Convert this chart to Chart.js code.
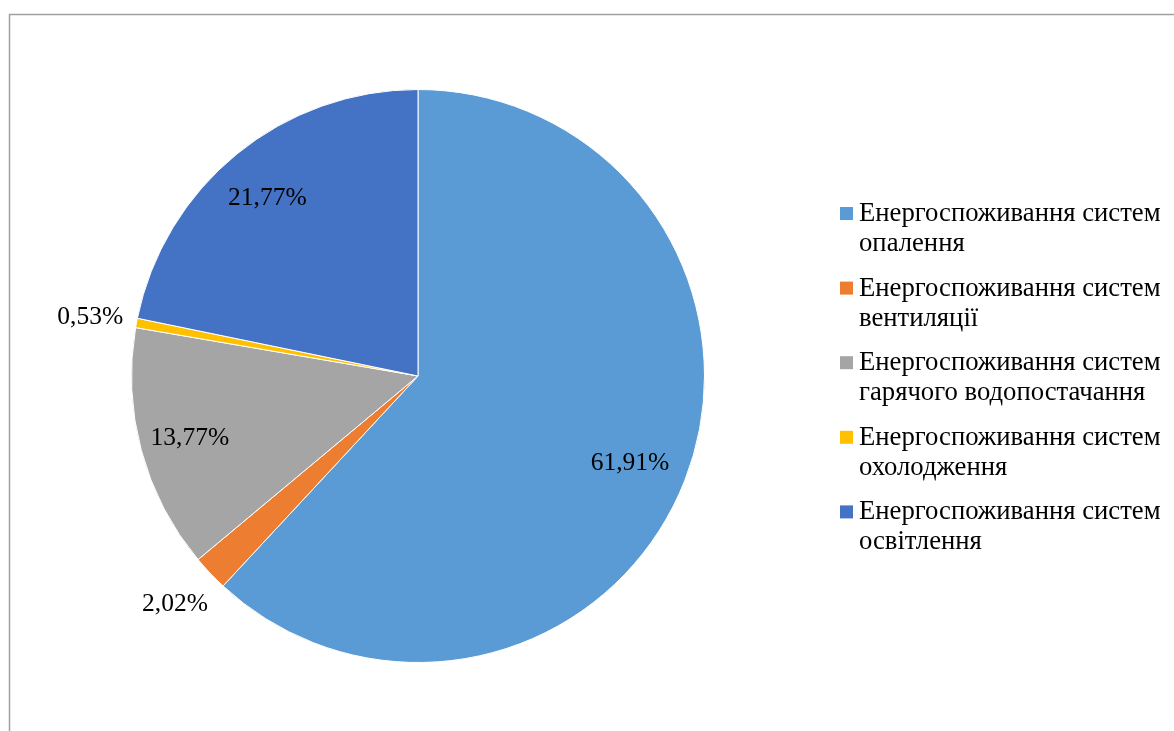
<!DOCTYPE html>
<html>
<head>
<meta charset="utf-8">
<script src="https://cdn.jsdelivr.net/npm/chart.js"></script>
<style>
  body { margin: 0; background: #fff; }
  #wrap { width: 1174px; height: 731px; position: relative; }
</style>
</head>
<body>
<div id="wrap"><canvas id="myChart"></canvas></div>
<script>
// дані діаграми
const categories = [
  "Енергоспоживання систем опалення",
  "Енергоспоживання систем вентиляції",
  "Енергоспоживання систем гарячого водопостачання",
  "Енергоспоживання систем охолодження",
  "Енергоспоживання систем освітлення",
];
const values = [61.91, 2.02, 13.77, 0.53, 21.77];
const valueLabels = ["61,91%", "2,02%", "13,77%", "0,53%", "21,77%"];
const colors = ["#5B9BD5", "#ED7D31", "#A5A5A5", "#FFC000", "#4472C4"];

const FONT = "'Liberation Serif', 'Times New Roman', serif";

// рамка навколо області
const framePlugin = {
  id: "frame",
  beforeDraw(chart) {
    const c = chart.ctx;
    c.save();
    c.strokeStyle = "#a0a0a0";
    c.lineWidth = 1.5;
    c.beginPath();
    c.moveTo(9.5, chart.height);
    c.lineTo(9.5, 14.5);
    c.lineTo(chart.width, 14.5);
    c.stroke();
    c.restore();
  },
};

// підписи значень
const labelPlugin = {
  id: "sliceLabels",
  afterDatasetsDraw(chart) {
    const c = chart.ctx;
    const meta = chart.getDatasetMeta(0);
    c.save();
    c.font = "25.5px " + FONT;
    c.fillStyle = "#000";
    c.textAlign = "center";
    c.textBaseline = "middle";
    meta.data.forEach((arc, i) => {
      const p = arc.getProps(["x", "y", "startAngle", "endAngle", "outerRadius"], true);
      const mid = (p.startAngle + p.endAngle) / 2;
      const k = values[i] < 3 ? 1.15 : 0.81;
      const x = p.x + Math.cos(mid) * p.outerRadius * k - 4;
      const y = p.y + Math.sin(mid) * p.outerRadius * k + 2;
      c.fillText(valueLabels[i], x, y);
    });
    c.restore();
  },
};

// легенда з переносом рядків
function wrapText(c, text, maxW) {
  const words = text.split(" ");
  const lines = [];
  let line = "";
  words.forEach((w) => {
    const test = line ? line + " " + w : w;
    if (c.measureText(test).width > maxW && line) {
      lines.push(line);
      line = w;
    } else {
      line = test;
    }
  });
  if (line) lines.push(line);
  return lines;
}

const legendPlugin = {
  id: "sideLegend",
  afterDraw(chart) {
    const c = chart.ctx;
    c.save();
    c.font = "26.7px " + FONT;
    c.textBaseline = "middle";
    c.textAlign = "left";
    const x0 = 840;
    let y = 214;
    chart.data.labels.forEach((lab, i) => {
      c.fillStyle = chart.data.datasets[0].backgroundColor[i];
      c.fillRect(x0, y - 7, 13, 13);
      c.fillStyle = "#000";
      const lines = wrapText(c, lab, 312);
      lines.forEach((ln, j) => c.fillText(ln, x0 + 19, y + j * 30));
      y += 74.6;
    });
    c.restore();
  },
};

const ctx = document.getElementById("myChart");
new Chart(ctx, {
  type: "pie",
  data: {
    labels: categories,
    datasets: [
      {
        data: values,
        backgroundColor: colors,
        borderColor: "#ffffff",
        borderWidth: 1,
      },
    ],
  },
  options: {
    responsive: true,
    maintainAspectRatio: false,
    animation: false,
    layout: {
      padding: { top: 89, bottom: 68, left: 131, right: 469 },
    },
    plugins: {
      legend: { display: false },
      tooltip: { enabled: false },
    },
  },
  plugins: [framePlugin, labelPlugin, legendPlugin],
});
</script>
</body>
</html>
